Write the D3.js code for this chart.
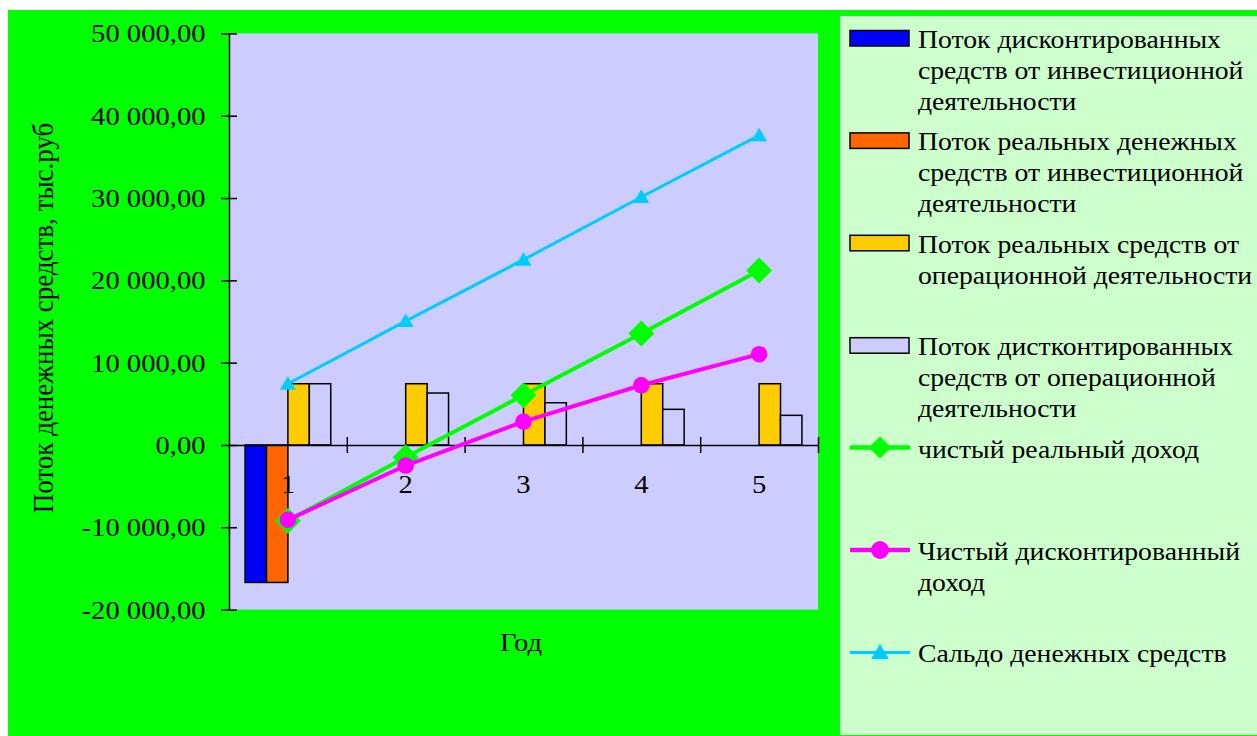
<!DOCTYPE html>
<html><head><meta charset="utf-8">
<script src="https://cdn.jsdelivr.net/npm/d3@7"></script>
<style>
html,body{margin:0;padding:0;background:#fff;}
svg{display:block;}
text{font-family:"Liberation Serif","Times New Roman",serif;fill:#000;}
</style></head>
<body><svg id="c" width="1257" height="736"></svg>
<script>
const years = ["1","2","3","4","5"];
const invDisc = [-16700, 0, 0, 0, 0];
const invReal = [-16700, 0, 0, 0, 0];
const opReal = [7440, 7440, 7440, 7440, 7440];
const opDisc = [7440, 6310, 5130, 4330, 3600];
const netReal = [-9200, -1500, 6050, 13550, 21200];
const netDisc = [-9100, -2500, 2830, 7250, 11030];
const balance = [7440, 15050, 22510, 30130, 37620];
const yTicks = [-20000, -10000, 0, 10000, 20000, 30000, 40000, 50000];
const barNames = ["Поток дисконтированных средств от инвестиционной деятельности",
  "Поток реальных денежных средств от инвестиционной деятельности",
  "Поток реальных средств от операционной деятельности",
  "Поток дистконтированных средств от операционной деятельности"];
const lineNames = ["чистый реальный доход","Чистый дисконтированный доход","Сальдо денежных средств"];
const legendLines = [
  ["Поток дисконтированных","средств от инвестиционной","деятельности"],
  ["Поток реальных денежных","средств от инвестиционной","деятельности"],
  ["Поток реальных средств от","операционной деятельности"],
  ["Поток дистконтированных","средств от операционной","деятельности"],
  ["чистый реальный доход"],
  ["Чистый дисконтированный","доход"],
  ["Сальдо денежных средств"]
];
const yTitle = "Поток денежных средств, тыс.руб";
const xTitle = "Год";

const FS = 26, SX = 1.1, LSX = 1.065;
const svg = d3.select("#c");
const L = 229, R = 818, T = 33.4, B = 609.6;

svg.append("rect").attr("x",8).attr("y",10).attr("width",1257).attr("height",736).attr("fill","#00FF00");
svg.append("rect").attr("x",L).attr("y",T).attr("width",R-L).attr("height",B-T).attr("fill","#CCCCFF");
svg.append("rect").attr("x",840).attr("y",16).attr("width",430).attr("height",719).attr("fill","#CCFFCC");

const y = d3.scaleLinear().domain([-20000,50000]).range([B,T]);
const x0 = d3.scaleBand().domain(years).range([L,R]).paddingInner(0).paddingOuter(0);
const bw = x0.bandwidth();
const w = bw/5.5;
const seriesKeys = ["a","b","c","d"];
const x1 = d3.scaleBand().domain(seriesKeys).range([(bw-4*w)/2,(bw+4*w)/2]);
const barSeries = [invDisc, invReal, opReal, opDisc];
const barColors = ["#0000FF","#FF6600","#FFCC00","#CCCCFF"];

function fmt(v){
  const neg = v<0; let s = Math.abs(v).toFixed(2).replace(".",",");
  let [i,d] = s.split(",");
  i = i.replace(/\B(?=(\d{3})+(?!\d))/g," ");
  return (neg?"-":"")+i+","+d;
}
function stext(g, x, yy, str, anchor, sx){
  return g.append("text").attr("transform",`translate(${x},${yy}) scale(${sx||SX},1)`)
    .attr("text-anchor",anchor||"start").attr("font-size",FS).text(str);
}

// bars
barSeries.forEach((vals,si)=>{
  svg.append("g").selectAll("rect").data(vals.map((v,i)=>({v,i})).filter(d=>d.v!==0)).join("rect")
    .attr("x",d=>x0(years[d.i])+x1(seriesKeys[si]))
    .attr("width",x1.bandwidth())
    .attr("y",d=>y(Math.max(0,d.v)))
    .attr("height",d=>Math.abs(y(d.v)-y(0)))
    .attr("fill",barColors[si]).attr("stroke","#000").attr("stroke-width",1.5);
});

// y axis
const yAxis = svg.append("g").attr("transform",`translate(${L},0)`)
  .call(d3.axisLeft(y).tickValues(yTicks).tickSize(8).tickSizeOuter(0).tickFormat(""));
yAxis.selectAll(".tick line").attr("x1",8).attr("stroke-width",1.5);
yAxis.select(".domain").attr("stroke-width",1.5);
yTicks.forEach(t=>stext(svg, L-23.5, y(t)+9, fmt(t), "end"));

// x axis
const xLin = d3.scaleLinear().domain([0,5]).range([L,R]);
const xAxis = svg.append("g").attr("transform",`translate(0,${y(0)})`)
  .call(d3.axisBottom(xLin).tickValues([1,2,3,4,5]).tickSize(8).tickSizeOuter(0).tickFormat(""));
xAxis.selectAll(".tick line").attr("y1",-8).attr("stroke-width",1.5);
xAxis.select(".domain").attr("stroke-width",1.5);
years.forEach(yr=>stext(svg, x0(yr)+bw/2, y(0)+48, yr, "middle"));

// lines
const cx = i=>x0(years[i])+bw/2;
const lineGen = d3.line().x((d,i)=>cx(i)).y(d=>y(d));
const lineSeries = [netReal, netDisc, balance];
const lineColors = ["#00FF00","#FF00FF","#00CCFF"];
const lineW = [4,4,3];
function marker(g, type, cxv, cyv, size, color){
  if(type===0){
    g.append("path").attr("d",`M${cxv},${cyv-size}L${cxv+size},${cyv}L${cxv},${cyv+size}L${cxv-size},${cyv}Z`).attr("fill",color);
  } else if(type===1){
    g.append("circle").attr("cx",cxv).attr("cy",cyv).attr("r",size).attr("fill",color);
  } else {
    g.append("path").attr("d",`M${cxv},${cyv-size*0.95}L${cxv+size},${cyv+size*0.75}L${cxv-size},${cyv+size*0.75}Z`).attr("fill",color);
  }
}
const mSize = [13,8.3,8];
lineSeries.forEach((vals,si)=>{
  const g = svg.append("g");
  g.append("path").datum(vals).attr("d",lineGen).attr("fill","none")
    .attr("stroke",lineColors[si]).attr("stroke-width",lineW[si]);
  vals.forEach((v,i)=>marker(g, si, cx(i), y(v), mSize[si], lineColors[si]));
});

// titles
svg.append("text").attr("transform",`translate(53,318) rotate(-90) scale(1,1.06)`)
  .attr("text-anchor","middle").attr("font-size",27).text(yTitle);
stext(svg, 521, 651, xTitle, "middle");

// legend
const lg = svg.append("g");
const step = 102.4;
legendLines.forEach((lines,i)=>{
  const my = 38 + step*i;
  if(i<4){
    lg.append("rect").attr("x",850).attr("y",my-7.5).attr("width",59).attr("height",15.5)
      .attr("fill",barColors[i]).attr("stroke","#000").attr("stroke-width",1.5);
  } else {
    const li = i-4;
    lg.append("line").attr("x1",850).attr("x2",910).attr("y1",my).attr("y2",my)
      .attr("stroke",lineColors[li]).attr("stroke-width",li===2?3:4.5);
    marker(lg, li, 880, my, [11,9,9][li], lineColors[li]);
  }
  lines.forEach((t,j)=>stext(lg, 918, my+10+31*j, t, "start", LSX));
});
</script></body></html>
